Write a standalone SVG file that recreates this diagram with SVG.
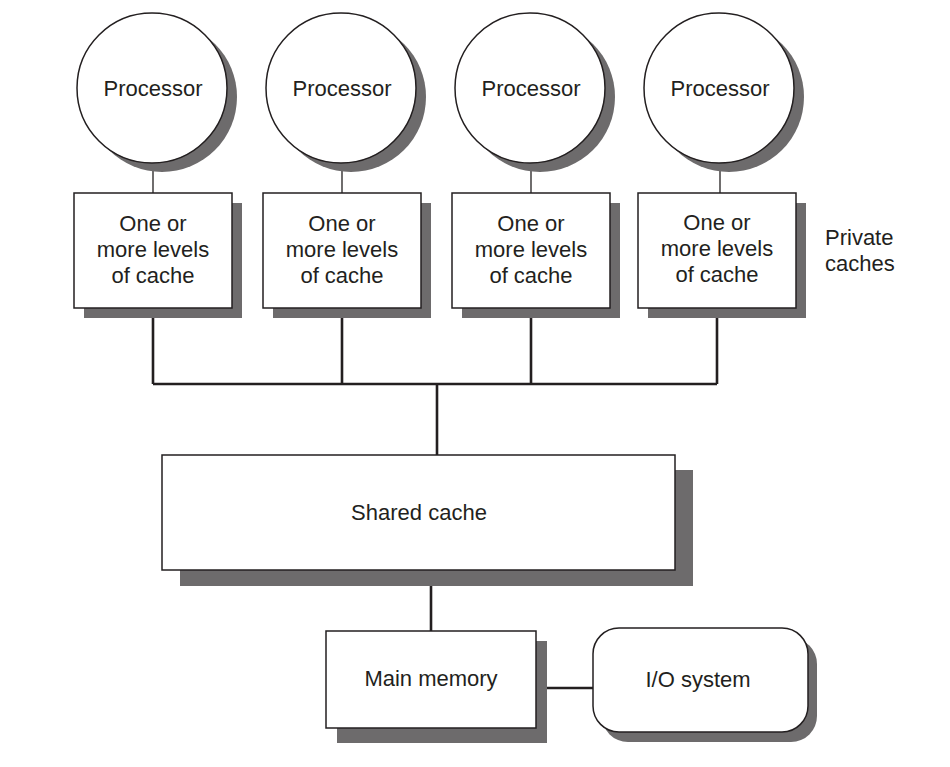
<svg xmlns="http://www.w3.org/2000/svg" width="950" height="767" viewBox="0 0 950 767">
<style>
.sh{fill:#6d6b6c;stroke:none}
.nd{fill:#fff;stroke:#231f20;stroke-width:1.5}
.t{font-family:"Liberation Sans",Arial,sans-serif;font-size:22px;fill:#231f20;text-anchor:middle}
.tl{font-family:"Liberation Sans",Arial,sans-serif;font-size:22px;fill:#231f20}
.thin{stroke:#231f20;stroke-width:1.3;fill:none}
.bus{stroke:#231f20;stroke-width:2.6;fill:none}
</style>
<rect width="950" height="767" fill="#fff"/>
<g id="connectors">
<line class="thin" x1="153" y1="160" x2="153" y2="194"/>
<line class="thin" x1="342" y1="160" x2="342" y2="194"/>
<line class="thin" x1="531" y1="160" x2="531" y2="194"/>
<line class="thin" x1="720" y1="160" x2="720" y2="194"/>
<path class="bus" d="M153 308V384M342 308V384M531 308V384M717 308V384M153 384H717M437 384V455"/>
<line class="bus" x1="431" y1="586" x2="431" y2="631"/>
<line class="bus" x1="547" y1="688" x2="593" y2="688"/>
</g>
<g id="proc1"><circle class="sh" cx="162" cy="97" r="75"/><circle class="nd" cx="152" cy="88" r="75"/><text class="t" x="153" y="96">Processor</text></g>
<g id="proc2"><circle class="sh" cx="351" cy="97" r="75"/><circle class="nd" cx="341" cy="88" r="75"/><text class="t" x="342" y="96">Processor</text></g>
<g id="proc3"><circle class="sh" cx="540" cy="97" r="75"/><circle class="nd" cx="530" cy="88" r="75"/><text class="t" x="531" y="96">Processor</text></g>
<g id="proc4"><circle class="sh" cx="729" cy="97" r="75"/><circle class="nd" cx="719" cy="88" r="75"/><text class="t" x="720" y="96">Processor</text></g>
<g id="cache1"><rect class="sh" x="84" y="203" width="158" height="115"/><rect class="nd" x="74" y="193" width="158" height="115"/>
<text class="t" x="153" y="231">One or</text><text class="t" x="153" y="257">more levels</text><text class="t" x="153" y="283">of cache</text></g>
<g id="cache2"><rect class="sh" x="273" y="203" width="158" height="115"/><rect class="nd" x="263" y="193" width="158" height="115"/>
<text class="t" x="342" y="231">One or</text><text class="t" x="342" y="257">more levels</text><text class="t" x="342" y="283">of cache</text></g>
<g id="cache3"><rect class="sh" x="462" y="203" width="158" height="115"/><rect class="nd" x="452" y="193" width="158" height="115"/>
<text class="t" x="531" y="231">One or</text><text class="t" x="531" y="257">more levels</text><text class="t" x="531" y="283">of cache</text></g>
<g id="cache4"><rect class="sh" x="648" y="203" width="158" height="115"/><rect class="nd" x="638" y="193" width="158" height="115"/>
<text class="t" x="717" y="230">One or</text><text class="t" x="717" y="256">more levels</text><text class="t" x="717" y="282">of cache</text></g>
<g id="private-label"><text class="tl" x="825" y="245">Private</text><text class="tl" x="825" y="271">caches</text></g>
<g id="shared"><rect class="sh" x="180" y="470" width="513" height="116"/><rect class="nd" x="162" y="455" width="513" height="115"/><text class="t" x="419" y="520">Shared cache</text></g>
<g id="mainmem"><rect class="sh" x="337" y="641" width="210" height="102"/><rect class="nd" x="326" y="631" width="210" height="97"/><text class="t" x="431" y="686">Main memory</text></g>
<g id="io"><rect class="sh" x="602" y="638" width="215" height="104" rx="26"/><rect class="nd" x="593" y="628" width="215" height="104" rx="26"/><text class="t" x="698" y="687">I/O system</text></g>
</svg>
